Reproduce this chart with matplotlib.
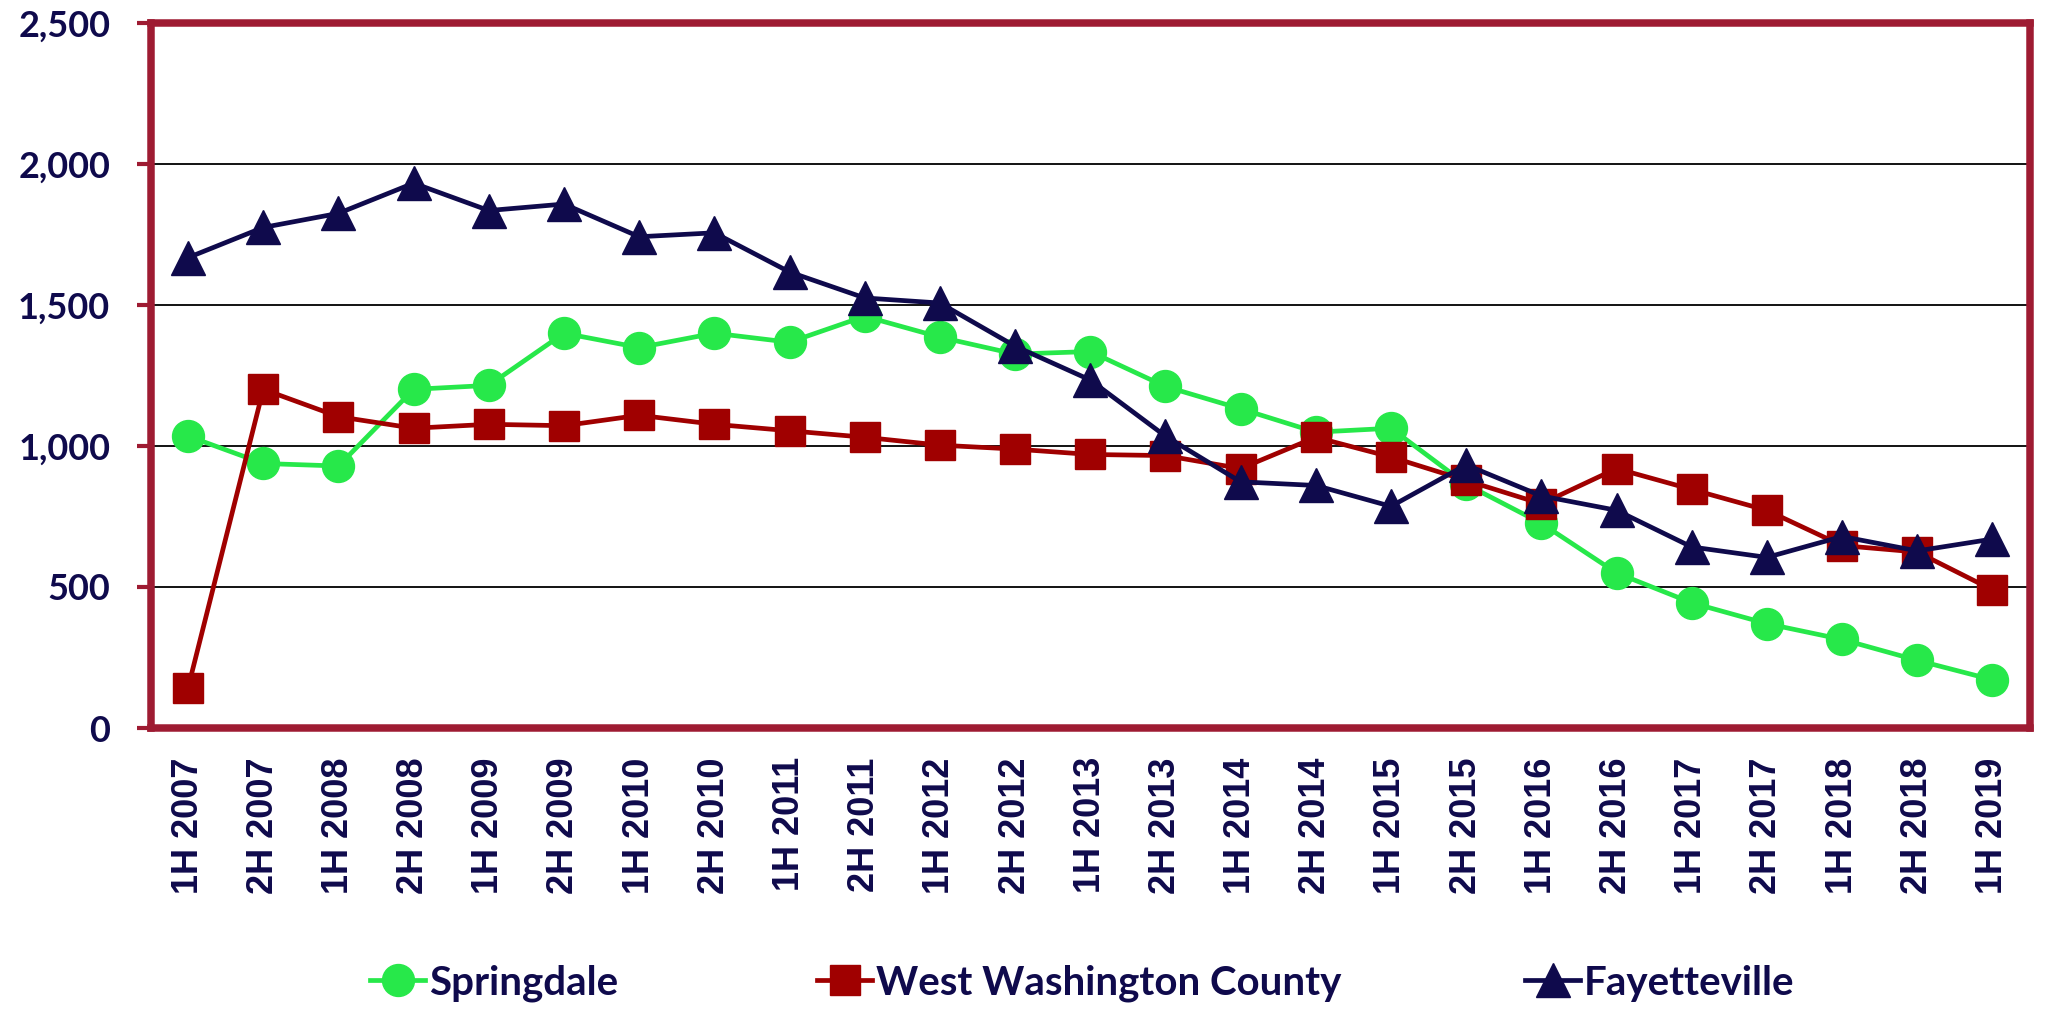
import matplotlib
matplotlib.use('Agg')
import matplotlib.pyplot as plt

periods = ['1H 2007', '2H 2007', '1H 2008', '2H 2008', '1H 2009', '2H 2009', '1H 2010',
           '2H 2010', '1H 2011', '2H 2011', '1H 2012', '2H 2012', '1H 2013', '2H 2013',
           '1H 2014', '2H 2014', '1H 2015', '2H 2015', '1H 2016', '2H 2016', '1H 2017',
           '2H 2017', '1H 2018', '2H 2018', '1H 2019']
springdale = [1035, 938, 929, 1201, 1215, 1400, 1349, 1400, 1368, 1460, 1386, 1326, 1335,
              1211, 1132, 1049, 1063, 864, 726, 550, 444, 370, 314, 240, 171]
west_washington = [143, 1201, 1104, 1063, 1077, 1072, 1109, 1077, 1054, 1031, 1003, 989, 970,
                   966, 920, 1031, 961, 878, 795, 920, 846, 772, 647, 624, 490]
fayetteville = [1668, 1775, 1825, 1932, 1835, 1858, 1742, 1756, 1617, 1525, 1507, 1354, 1234,
                1035, 873, 860, 786, 933, 823, 772, 642, 605, 679, 628, 670]

navy = '#0f0a4c'
border = '#9e1b32'
W, H = 2045, 1009

fig = plt.figure(figsize=(W / 100, H / 100), dpi=100)
ax = fig.add_axes([150.5 / W, 1 - 728 / H, (2030 - 150.5) / W, (728 - 23) / H])

x = range(len(periods))
l1, = ax.plot(x, springdale, color='#27e84a', lw=3.4, marker='o', ms=23, label='Springdale', zorder=3)
l2, = ax.plot(x, west_washington, color='#a00000', lw=3.4, marker='s', ms=22, label='West Washington County', zorder=3)
l3, = ax.plot(x, fayetteville, color=navy, lw=3.4, marker='^', ms=24, label='Fayetteville', zorder=4)

ax.set_xlim(-0.5, 24.5)
ax.set_ylim(0, 2500)
ax.set_yticks(range(0, 2501, 500))
ax.set_yticklabels([f'{v:,}' for v in range(0, 2501, 500)], fontfamily='Lato', fontweight='bold',
                   fontsize=26, color=navy)
ax.set_xticks(list(x))
ax.set_xticklabels(periods, rotation=90, fontfamily='Liberation Sans', fontweight='bold',
                   fontsize=26, color=navy)
ax.tick_params(axis='y', length=10, width=3, color=border, pad=19)
ax.tick_params(axis='x', length=0, pad=21)
ax.grid(axis='y', color='black', lw=1.3)
ax.set_axisbelow(True)
for s in ax.spines.values():
    s.set_color(border)
    s.set_linewidth(5.4)

# one legend per series so each entry sits where it does in the original
for line, xpos in [(l1, 370), (l2, 817), (l3, 1525)]:
    leg = fig.legend(handles=[line], loc='center left', bbox_to_anchor=(xpos / W, 1 - 983 / H),
                     frameon=False, prop={'family': 'Lato', 'weight': 'bold', 'size': 29},
                     handlelength=1.37, handletextpad=0.1, borderpad=0, borderaxespad=0)
    for t in leg.get_texts():
        t.set_color(navy)

fig.savefig('out.png', dpi=100)
